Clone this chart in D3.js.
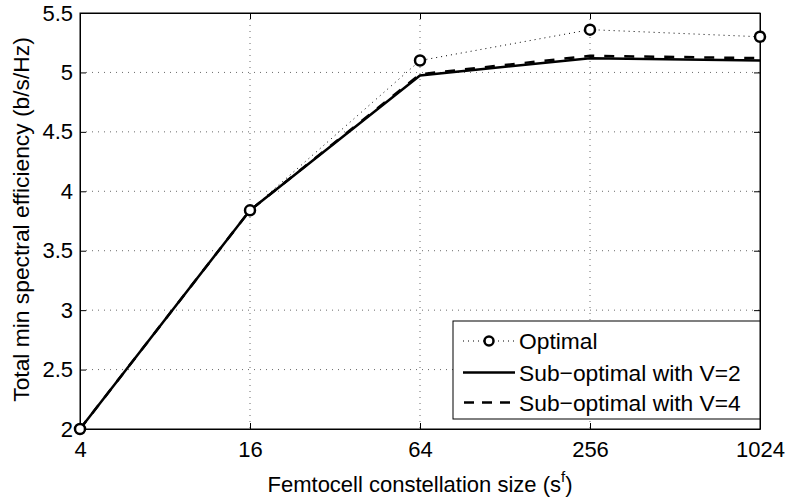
<!DOCTYPE html>
<html><head><meta charset="utf-8">
<script src="https://cdn.jsdelivr.net/npm/d3@7"></script>
<style>body{margin:0;background:#fff}svg{font-family:"Liberation Sans",Arial,sans-serif}</style>
</head><body>
<svg id="c" width="787" height="497"></svg>
<script>
const sizes = [4, 16, 64, 256, 1024];
const optimal = [2.0, 3.84, 5.10, 5.36, 5.30];
const subV2 = [2.0, 3.84, 4.975, 5.12, 5.10];
const subV4 = [2.0, 3.84, 4.985, 5.14, 5.12];
const yTicks = [2, 2.5, 3, 3.5, 4, 4.5, 5, 5.5];
const seriesNames = ["Optimal", "Sub\u2212optimal with V=2", "Sub\u2212optimal with V=4"];

const FS = 22, FS2 = 22.8;
const svg = d3.select("#c");
const L = 80, R = 760, T = 13, B = 429;
const x = d3.scaleLog().base(4).domain([4, 1024]).range([L, R]);
const y = d3.scaleLinear().domain([2, 5.5]).range([B, T]);

// grid
const g = svg.append("g");
g.selectAll(".gx").data(sizes.slice(1, -1)).enter().append("line")
  .attr("x1", d => x(d)).attr("x2", d => x(d)).attr("y1", T).attr("y2", B)
  .attr("stroke", "#444").attr("stroke-width", 0.8).attr("stroke-dasharray", "1,5");
g.selectAll(".gy").data(yTicks.slice(1, -1)).enter().append("line")
  .attr("x1", L).attr("x2", R).attr("y1", d => y(d)).attr("y2", d => y(d))
  .attr("stroke", "#444").attr("stroke-width", 0.8).attr("stroke-dasharray", "1,5");

// axes
const axB = d3.axisBottom(x).tickValues(sizes).tickFormat(d3.format("d")).tickSizeInner(-6).tickSizeOuter(0).tickPadding(12);
const axT = d3.axisTop(x).tickValues(sizes).tickFormat("").tickSizeInner(-6).tickSizeOuter(0);
const axL = d3.axisLeft(y).tickValues(yTicks).tickFormat(d => d3.format("")(d)).tickSizeInner(-6).tickSizeOuter(0).tickPadding(7);
const axR = d3.axisRight(y).tickValues(yTicks).tickFormat("").tickSizeInner(-6).tickSizeOuter(0);
function style(sel){ sel.attr("font-size", FS).attr("font-family","Liberation Sans, Arial, sans-serif");
  sel.selectAll("path").attr("stroke","#000"); sel.selectAll("line").attr("stroke","#000");
  sel.selectAll("text").attr("font-size", FS).attr("fill","#000"); }
svg.append("g").attr("transform", `translate(0,${B})`).call(axB).call(style);
svg.append("g").attr("transform", `translate(0,${T})`).call(axT).call(style);
svg.append("g").attr("transform", `translate(${L},0)`).call(axL).call(style);
svg.append("g").attr("transform", `translate(${R},0)`).call(axR).call(style);
svg.append("rect").attr("x", L).attr("y", T).attr("width", R - L).attr("height", B - T)
  .attr("fill", "none").attr("stroke", "#000").attr("stroke-width", 1);

// lines
const line = d3.line().x((d, i) => x(sizes[i])).y(d => y(d));
svg.append("path").datum(optimal).attr("d", line).attr("fill", "none").attr("stroke", "#000")
  .attr("stroke-width", 1).attr("stroke-dasharray", "1,4");
svg.append("path").datum(subV2).attr("d", line).attr("fill", "none").attr("stroke", "#000").attr("stroke-width", 2.5);
svg.append("path").datum(subV4).attr("d", line).attr("fill", "none").attr("stroke", "#000")
  .attr("stroke-width", 2.5).attr("stroke-dasharray", "10,10");
svg.selectAll(".pt").data(optimal).enter().append("circle")
  .attr("cx", (d, i) => x(sizes[i])).attr("cy", d => y(d)).attr("r", 5)
  .attr("fill", "#fff").attr("stroke", "#000").attr("stroke-width", 2.5);

// legend
const lg = svg.append("g");
lg.append("rect").attr("x", 453).attr("y", 321).attr("width", 307).attr("height", 98)
  .attr("fill", "#fff").attr("stroke", "#000").attr("stroke-width", 1);
const ly = [341, 372.5, 402.5];
lg.append("line").attr("x1", 463).attr("x2", 515).attr("y1", ly[0]).attr("y2", ly[0])
  .attr("stroke", "#000").attr("stroke-dasharray", "1,4");
lg.append("circle").attr("cx", 489).attr("cy", ly[0]).attr("r", 4.5).attr("fill", "#fff").attr("stroke", "#000").attr("stroke-width", 2.5);
lg.append("line").attr("x1", 463).attr("x2", 515).attr("y1", ly[1]).attr("y2", ly[1]).attr("stroke", "#000").attr("stroke-width", 2.5);
lg.append("line").attr("x1", 464).attr("x2", 515).attr("y1", ly[2]).attr("y2", ly[2]).attr("stroke", "#000").attr("stroke-width", 2.5).attr("stroke-dasharray", "10,8");
lg.selectAll("text").data(seriesNames).enter().append("text")
  .attr("x", 519).attr("y", (d, i) => ly[i] + 8).attr("font-size", FS2).text(d => d);

// axis titles
const xt = svg.append("text").attr("x", 420).attr("y", 492).attr("text-anchor", "middle").attr("font-size", FS);
xt.append("tspan").text("Femtocell constellation size (s");
xt.append("tspan").attr("dy", -10).attr("font-size", 15).text("f");
xt.append("tspan").attr("dy", 10).text(")");
svg.append("text").attr("transform", `translate(29,219.5) rotate(-90)`).attr("text-anchor", "middle")
  .attr("font-size", FS2).text("Total min spectral efficiency (b/s/Hz)");
</script>
</body></html>
